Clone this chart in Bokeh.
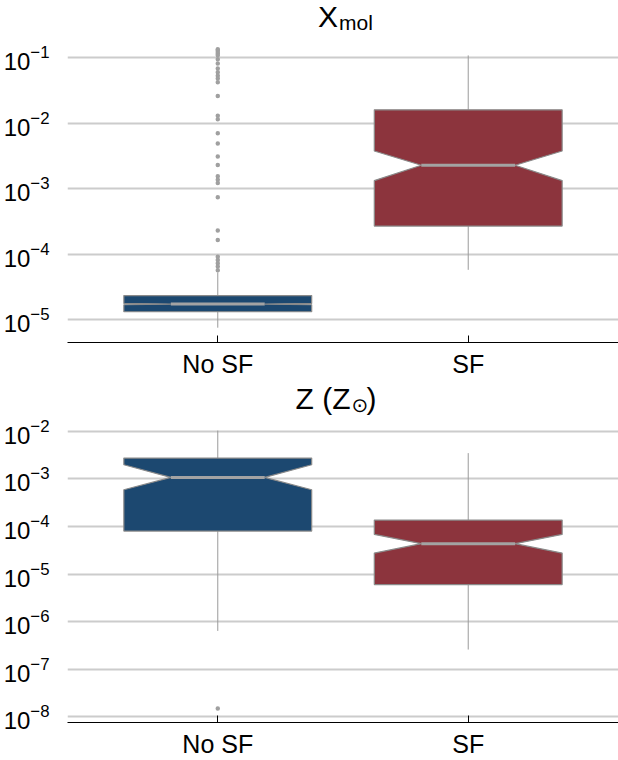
from bokeh.plotting import figure
from bokeh.layouts import column
from bokeh.models import Range1d, FixedTicker, Label
from bokeh.embed import file_html
from bokeh.resources import INLINE

categories = ["No SF", "SF"]
box_colors = ["#1c4870", "#8c343d"]

# X_mol: box statistics per category (No SF, SF)
xmol_whisker_lo = [7.6e-6, 5.8e-5]
xmol_q1 = [1.33e-5, 2.7e-4]
xmol_notch_lo = [1.70e-5, 1.33e-3]
xmol_median = [1.74e-5, 2.28e-3]
xmol_notch_hi = [1.78e-5, 3.76e-3]
xmol_q3 = [2.35e-5, 1.60e-2]
xmol_whisker_hi = [5.3e-5, 0.108]
xmol_outliers_nosf = [0.134, 0.130, 0.122, 0.115, 0.109, 0.094, 0.081, 0.068,
                      0.060, 0.053, 0.048, 0.042, 0.026, 0.013, 0.0115, 0.0070,
                      0.0049, 0.0031, 0.0023, 0.00155, 0.00137, 0.00122,
                      7.4e-4, 2.3e-4, 1.66e-4, 9.2e-5, 8.2e-5, 7.3e-5, 6.5e-5,
                      5.7e-5]
xmol_outliers_sf = []
xmol_ticks = [1e-5, 1e-4, 1e-3, 1e-2, 1e-1]

# Z (Z_sun): box statistics per category (No SF, SF)
z_whisker_lo = [6.4e-7, 2.6e-7]
z_q1 = [8.0e-5, 6.0e-6]
z_notch_lo = [5.9e-4, 2.76e-5]
z_median = [1.07e-3, 4.34e-5]
z_notch_hi = [1.97e-3, 6.8e-5]
z_q3 = [2.72e-3, 1.36e-4]
z_whisker_hi = [1.03e-2, 3.46e-3]
z_outliers_nosf = [1.5e-8]
z_outliers_sf = []
z_ticks = [1e-8, 1e-7, 1e-6, 1e-5, 1e-4, 1e-3, 1e-2]

FONT = "Liberation Sans"
BOX_W = 0.75


def box_panel(stats, outliers, y_lo_exp, y_hi_exp, ticks, border_bottom):
    wlo, q1, nlo, med, nhi, q3, whi = stats
    # the frame runs to the top edge so the panel heading can sit inside it
    p = figure(width=618, height=380, x_range=Range1d(-0.6, 1.6),
               y_range=Range1d(10 ** y_lo_exp, 10 ** y_hi_exp), y_axis_type="log",
               output_backend="svg", toolbar_location=None,
               min_border_left=62, min_border_right=0,
               min_border_top=0, min_border_bottom=border_bottom)
    p.outline_line_color = None
    p.background_fill_color = "white"
    p.border_fill_color = "white"

    p.xgrid.visible = False
    p.ygrid.ticker = FixedTicker(ticks=ticks)
    p.ygrid.grid_line_color = "#cccccc"
    p.ygrid.grid_line_width = 2

    ya = p.yaxis[0]
    ya.ticker = FixedTicker(ticks=ticks)
    ya.axis_line_color = None
    ya.major_tick_line_color = None
    ya.minor_tick_line_color = None
    ya.major_label_text_font = FONT
    ya.major_label_text_font_size = "24px"
    ya.major_label_text_color = "black"
    ya.major_label_standoff = 12

    xa = p.xaxis[0]
    xa.ticker = FixedTicker(ticks=list(range(len(categories))))
    xa.major_label_overrides = {i: c for i, c in enumerate(categories)}
    xa.axis_line_color = "black"
    xa.axis_line_width = 1
    xa.major_tick_line_color = "black"
    xa.major_tick_in = 7
    xa.major_tick_out = 0
    xa.minor_tick_line_color = None
    xa.major_label_text_font = FONT
    xa.major_label_text_font_size = "25px"
    xa.major_label_text_color = "black"
    xa.major_label_standoff = 7

    pos = list(range(len(categories)))

    # whiskers
    p.segment(x0=pos, y0=q3, x1=pos, y1=whi, line_color="#9a9a9a", line_width=1)
    p.segment(x0=pos, y0=q1, x1=pos, y1=wlo, line_color="#9a9a9a", line_width=1)

    # notched boxes
    xs, ys = [], []
    for i, x in enumerate(pos):
        left, right = x - BOX_W / 2, x + BOX_W / 2
        il, ir = x - BOX_W / 4, x + BOX_W / 4
        xs.append([left, left, il, left, left, right, right, ir, right, right])
        ys.append([q1[i], nlo[i], med[i], nhi[i], q3[i], q3[i], nhi[i], med[i], nlo[i], q1[i]])
    p.patches(xs=xs, ys=ys, fill_color=box_colors, line_color="#8a8a8a", line_width=1.2)

    # medians
    p.segment(x0=[x - BOX_W / 4 for x in pos], y0=med, x1=[x + BOX_W / 4 for x in pos],
              y1=med, line_color="#a3a3a3", line_width=3)

    # fliers
    for x, vals in zip(pos, outliers):
        if vals:
            p.scatter(x=[x] * len(vals), y=vals, size=4.5, fill_color="#a0a0a0",
                      line_color=None)
    return p


def heading(p, text, sx, sy, size, font=FONT):
    p.add_layout(Label(x=sx, y=sy, x_units="screen", y_units="screen", text=text,
                       text_font=font, text_font_size=size, text_color="black",
                       text_align="left", text_baseline="alphabetic"))


top = box_panel((xmol_whisker_lo, xmol_q1, xmol_notch_lo, xmol_median, xmol_notch_hi,
                 xmol_q3, xmol_whisker_hi), (xmol_outliers_nosf, xmol_outliers_sf),
                -5.345, -0.129, xmol_ticks, 37)
heading(top, "X", 250.5, 326, "30px")
heading(top, "mol", 271.5, 320, "21px")

bottom = box_panel((z_whisker_lo, z_q1, z_notch_lo, z_median, z_notch_hi, z_q3,
                    z_whisker_hi), (z_outliers_nosf, z_outliers_sf),
                   -8.117, -0.936, z_ticks, 38)
heading(bottom, "Z (Z", 228, 324, "30px")
heading(bottom, "\u2299", 284, 318, "20px", font="DejaVu Sans")
heading(bottom, ")", 299, 324, "30px")

layout = column(top, bottom, spacing=0)
open("out.html", "w").write(file_html(layout, INLINE))
